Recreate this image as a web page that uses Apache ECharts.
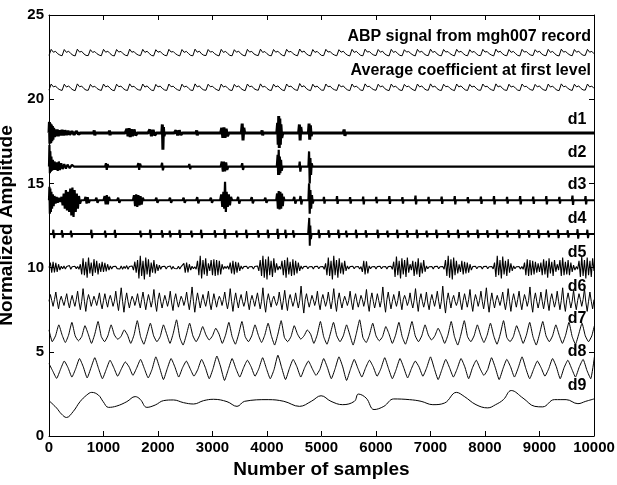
<!DOCTYPE html>
<html><head><meta charset="utf-8">
<script src="https://cdn.jsdelivr.net/npm/echarts@6/dist/echarts.min.js"></script>
<style>html,body{margin:0;padding:0;background:#fff}#c{width:617px;height:485px}</style>
</head><body><div id="c"></div>
<script>
// ---- tick labels / axes ----
const xTicks = [0,1000,2000,3000,4000,5000,6000,7000,8000,9000,10000];
const yTicks = [0,5,10,15,20,25];
const xTitle = 'Number of samples';
const yTitle = 'Normalized Amplitude';
// ---- trace labels ----
const labelNames = ['ABP signal from mgh007 record','Average coefficient at first level','d1','d2','d3','d4','d5','d6','d7','d8','d9'];
const labelX = [9945,9945,9860,9860,9860,9860,9860,9860,9860,9860,9860];
const labelY = [23.7,21.7,18.8,16.8,14.9,12.9,10.9,8.9,7.0,5.0,3.0];

// ---- ABP signal (sample step 40) ----
const abpStep = 40;
const abp = [
22.60,22.96,22.79,22.84,22.70,22.62, 22.58,22.95,22.78,22.85,22.71,22.61,
22.57,22.97,22.80,22.84,22.69,22.60, 22.59,22.94,22.78,22.83,22.70,22.62,
22.58,22.96,22.79,22.85,22.71,22.60, 22.57,22.95,22.80,22.84,22.70,22.61,
22.58,22.97,22.79,22.83,22.69,22.62, 22.59,22.96,22.78,22.85,22.71,22.60,
22.57,22.94,22.79,22.84,22.70,22.61, 22.58,22.96,22.80,22.83,22.70,22.62,
22.57,22.95,22.78,22.84,22.71,22.60, 22.58,22.97,22.79,22.85,22.69,22.61,
22.59,22.95,22.80,22.83,22.70,22.62, 22.57,22.96,22.78,22.84,22.71,22.60,
22.58,22.94,22.79,22.85,22.70,22.61, 22.57,22.96,22.80,22.84,22.69,22.62,
22.59,22.97,22.78,22.83,22.70,22.60, 22.58,22.95,22.79,22.85,22.71,22.61,
22.57,22.96,22.80,22.84,22.70,22.62, 22.58,22.98,22.79,22.86,22.70,22.61,
22.57,22.95,22.78,22.84,22.71,22.60, 22.59,22.96,22.80,22.83,22.69,22.62,
22.58,22.94,22.79,22.85,22.70,22.61, 22.57,22.96,22.78,22.84,22.71,22.60,
22.58,22.97,22.80,22.83,22.70,22.62, 22.59,22.95,22.79,22.85,22.69,22.61,
22.57,22.96,22.78,22.84,22.70,22.60, 22.58,22.94,22.80,22.83,22.71,22.62,
22.57,22.96,22.79,22.85,22.70,22.61, 22.59,22.97,22.78,22.84,22.69,22.60,
22.58,22.95,22.80,22.83,22.70,22.62, 22.57,22.96,22.79,22.85,22.71,22.61,
22.58,22.94,22.78,22.84,22.70,22.60, 22.59,22.96,22.80,22.83,22.69,22.62,
22.57,22.97,22.79,22.85,22.70,22.61, 22.58,22.95,22.78,22.84,22.71,22.60,
22.57,22.96,22.80,22.83,22.70,22.62, 22.59,22.94,22.79,22.85,22.69,22.61,
22.58,22.96,22.78,22.84,22.70,22.60, 22.57,22.97,22.80,22.83,22.71,22.62,
22.58,22.95,22.79,22.85,22.70,22.61, 22.60,22.96,22.79,22.84,22.70
];

// ---- Average coefficient at first level (sample step 40) ----
const avgStep = 40;
const avg = [
20.54,20.90,20.73,20.78,20.64,20.56, 20.52,20.89,20.72,20.79,20.65,20.55,
20.51,20.91,20.74,20.78,20.63,20.54, 20.53,20.88,20.72,20.77,20.64,20.56,
20.52,20.90,20.73,20.79,20.65,20.54, 20.51,20.89,20.74,20.78,20.64,20.55,
20.52,20.91,20.73,20.77,20.63,20.56, 20.53,20.90,20.72,20.79,20.65,20.54,
20.51,20.88,20.73,20.78,20.64,20.55, 20.52,20.90,20.74,20.77,20.64,20.56,
20.51,20.89,20.72,20.78,20.65,20.54, 20.52,20.91,20.73,20.79,20.63,20.55,
20.53,20.89,20.74,20.77,20.64,20.56, 20.51,20.90,20.72,20.78,20.65,20.54,
20.52,20.88,20.73,20.79,20.64,20.55, 20.51,20.90,20.74,20.78,20.63,20.56,
20.53,20.91,20.72,20.77,20.64,20.54, 20.52,20.89,20.73,20.79,20.65,20.55,
20.51,20.90,20.74,20.78,20.64,20.56, 20.52,20.93,20.73,20.80,20.64,20.55,
20.51,20.89,20.72,20.78,20.65,20.54, 20.53,20.90,20.74,20.77,20.63,20.56,
20.52,20.88,20.73,20.79,20.64,20.55, 20.51,20.90,20.72,20.78,20.65,20.54,
20.52,20.91,20.74,20.77,20.64,20.56, 20.53,20.89,20.73,20.79,20.63,20.55,
20.51,20.90,20.72,20.78,20.64,20.54, 20.52,20.88,20.74,20.77,20.65,20.56,
20.51,20.90,20.73,20.79,20.64,20.55, 20.53,20.91,20.72,20.78,20.63,20.54,
20.52,20.89,20.74,20.77,20.64,20.56, 20.51,20.90,20.73,20.79,20.65,20.55,
20.52,20.88,20.72,20.78,20.64,20.54, 20.53,20.90,20.74,20.77,20.63,20.56,
20.51,20.91,20.73,20.79,20.64,20.55, 20.52,20.89,20.72,20.78,20.65,20.54,
20.51,20.90,20.74,20.77,20.64,20.56, 20.53,20.88,20.73,20.79,20.63,20.55,
20.52,20.90,20.72,20.78,20.64,20.54, 20.51,20.91,20.74,20.77,20.65,20.56,
20.52,20.89,20.73,20.79,20.64,20.55, 20.54,20.90,20.73,20.78,20.64
];

// ---- detail d1 [sample, value] ----
const d1 = [
[0,18],[8,18.65],[16,17.35],[24,18.55],[32,17.4],[42,18.5],[52,17.5],[62,18.4],[72,17.6],[85,18.3],[100,17.75],[115,18.2],[130,17.8],[150,18.2],[170,17.8],[190,18.15],[215,17.85],[240,18.18],[265,17.85],[290,18.15],[320,17.88],[350,18.12],[380,17.9],[420,18.1],[460,17.9],[500,18.1],[540,17.92],[580,18],
[820,18],[830,18.15],[840,17.85],[850,18],
[1100,18],[1110,18.14],[1120,17.86],[1130,18],
[1400,18],[1430,18.25],[1450,17.8],[1470,18.28],[1490,17.75],[1510,18.22],[1530,17.8],[1560,18.2],[1590,17.85],[1620,18],
[1820,18],[1850,18.2],[1880,17.8],[1910,18.18],[1940,17.85],[1970,18],
[2070,18],[2080,18.5],[2090,17.0],[2100,18.35],[2110,17.8],[2125,18],
[2300,18],[2330,18.15],[2360,17.85],[2390,18.15],[2420,17.88],[2450,18],
[2700,18],[2710,18.15],[2720,17.85],[2730,18],
[3150,18],[3170,18.3],[3190,17.7],[3210,18.32],[3230,17.7],[3250,18.25],[3275,17.8],[3300,18],
[3530,18],[3545,18.55],[3560,17.55],[3575,18.3],[3590,18],
[3900,18],[3910,18.15],[3920,17.85],[3930,18],
[4180,18],[4195,18.6],[4205,17.3],[4215,19.0],[4225,17.1],[4235,18.85],[4245,17.3],[4255,18.5],[4270,17.7],[4290,18],
[4580,18],[4595,18.5],[4608,17.55],[4620,18.35],[4635,18],
[4760,18],[4772,18.55],[4784,17.6],[4796,18.45],[4810,17.8],[4825,18],
[5400,18],[5415,18.2],[5430,17.82],[5445,18],
[10000,18]
];

// ---- detail d2 [sample, value] ----
const d2 = [
[0,16],[8,17.3],[16,15.6],[24,16.9],[34,15.7],[44,16.6],[56,15.75],[70,16.4],[85,15.8],[100,16.3],[120,15.8],[140,16.25],[160,15.75],[180,16.3],[200,15.8],[225,16.2],[250,15.85],[280,16.15],[310,15.88],[340,16.12],[380,15.9],[420,16.1],[460,16],
[1030,16],[1045,16.2],[1060,15.8],[1075,16.15],[1090,16],
[1620,16],[1640,16.2],[1655,15.8],[1670,16.18],[1690,16],
[2060,16],[2075,16.22],[2090,15.78],[2105,16],
[2560,16],[2575,16.15],[2590,15.85],[2605,16],
[3150,16],[3170,16.3],[3190,15.7],[3210,16.3],[3230,15.72],[3250,16.25],[3270,15.8],[3290,16],
[3530,16],[3545,16.2],[3560,15.8],[3575,16],
[4180,16],[4195,16.7],[4205,15.5],[4215,17.0],[4225,15.5],[4235,16.6],[4245,15.6],[4258,16.4],[4270,15.75],[4285,16],
[4590,16],[4600,16.3],[4612,15.7],[4625,16],
[4760,16],[4772,16.9],[4784,15.0],[4796,16.5],[4808,15.5],[4820,16.2],[4835,16],
[10000,16]
];

// ---- detail d3 [sample, value] ----
const d3 = [
[0,14],[8,14.8],[16,13.2],[24,14.7],[34,13.3],[44,14.5],[56,13.5],[70,14.35],[85,13.65],[100,14.25],[120,13.8],[140,14.2],[160,13.85],[180,14.15],[200,13.9],[230,14.2],[250,13.7],[270,14.4],[290,13.5],[310,14.6],[330,13.4],[350,14.5],[370,13.3],[390,14.7],[410,13.1],[430,14.75],[450,13.0],[470,14.6],[490,13.3],[510,14.4],[530,13.5],[550,14.25],[570,13.8],[590,14],
[650,14],[670,14.2],[690,13.8],[710,14.18],[730,13.85],[750,14],
[850,14],[870,14.15],[890,13.85],[910,14],
[1000,14],[1020,14.25],[1040,13.75],[1060,14.3],[1080,13.75],[1100,14.2],[1120,14],
[1250,14],[1270,14.15],[1290,13.85],[1310,14],
[1540,14],[1560,14.3],[1580,13.65],[1600,14.35],[1620,13.6],[1640,14.3],[1660,13.7],[1680,14.25],[1700,13.75],[1720,14.15],[1740,14],
[1950,14],[1970,14.15],[1990,13.85],[2010,14],
[2200,14],[2220,14.15],[2240,13.85],[2260,14],
[2450,14],[2470,14.15],[2490,13.85],[2510,14],
[2700,14],[2720,14.18],[2740,13.82],[2760,14],
[2950,14],[2970,14.15],[2990,13.85],[3010,14],
[3140,14],[3160,14.35],[3180,13.6],[3200,14.5],[3215,13.5],[3230,15.1],[3245,13.3],[3260,14.5],[3280,13.6],[3300,14.35],[3320,13.7],[3340,14.2],[3360,14],
[3450,14],[3470,14.2],[3490,13.8],[3510,14],
[3700,14],[3720,14.18],[3740,13.82],[3760,14],
[3950,14],[3970,14.15],[3990,13.85],[4010,14],
[4170,14],[4185,14.4],[4200,13.5],[4215,14.55],[4230,13.45],[4245,14.5],[4260,13.5],[4275,14.4],[4290,13.65],[4305,14.2],[4320,14],
[4480,14],[4500,14.2],[4520,13.8],[4540,14],
[4600,14],[4615,14.25],[4630,13.75],[4645,14],
[4760,14],[4772,15.0],[4784,13.2],[4796,14.6],[4810,13.5],[4825,14.3],[4840,13.8],[4855,14],
[5035,14],[5045,14.2],[5055,13.8],[5065,14],
[5275,14],[5285,14.25],[5295,13.78],[5305,14],
[5515,14],[5525,14.18],[5535,13.8],[5545,14],
[5755,14],[5765,14.22],[5775,13.75],[5785,14],
[5995,14],[6005,14.2],[6015,13.82],[6025,14],
[6235,14],[6245,14.25],[6255,13.78],[6265,14],
[6475,14],[6485,14.18],[6495,13.8],[6505,14],
[6715,14],[6725,14.28],[6735,13.75],[6745,14],
[6955,14],[6965,14.2],[6975,13.8],[6985,14],
[7195,14],[7205,14.22],[7215,13.78],[7225,14],
[7435,14],[7445,14.25],[7455,13.75],[7465,14],
[7675,14],[7685,14.18],[7695,13.82],[7705,14],
[7915,14],[7925,14.22],[7935,13.78],[7945,14],
[8155,14],[8165,14.25],[8175,13.75],[8185,14],
[8395,14],[8405,14.2],[8415,13.8],[8425,14],
[8635,14],[8645,14.25],[8655,13.75],[8665,14],
[8875,14],[8885,14.22],[8895,13.78],[8905,14],
[9115,14],[9125,14.25],[9135,13.75],[9145,14],
[9355,14],[9365,14.2],[9375,13.8],[9385,14],
[9595,14],[9605,14.28],[9615,13.72],[9625,14],
[9835,14],[9845,14.25],[9855,13.75],[9865,14],
[10000,14]
];

// ---- detail d4 [sample, value] ----
const d4 = [
[0,12],[70,12],[80,12.25],[92,11.75],[104,12],
[228,12],[238,12.22],[250,11.78],[262,12],
[393,12],[403,12.2],[415,11.8],[427,12],
[767,12],[777,12.25],[789,11.75],[801,12],
[1019,12],[1029,12.2],[1041,11.78],[1053,12],
[1199,12],[1209,12.24],[1221,11.76],[1233,12],
[1666,12],[1676,12.2],[1688,11.8],[1700,12],
[1846,12],[1856,12.25],[1868,11.75],[1880,12],
[2062,12],[2072,12.22],[2084,11.78],[2096,12],
[2206,12],[2216,12.2],[2228,11.8],[2240,12],
[2386,12],[2396,12.24],[2408,11.76],[2420,12],
[2602,12],[2612,12.2],[2624,11.8],[2636,12],
[2782,12],[2792,12.25],[2804,11.75],[2816,12],
[3033,12],[3043,12.22],[3055,11.78],[3067,12],
[3213,12],[3223,12.28],[3235,11.72],[3247,12],
[3429,12],[3439,12.2],[3451,11.8],[3463,12],
[3609,12],[3619,12.25],[3631,11.75],[3643,12],
[3825,12],[3835,12.22],[3847,11.78],[3859,12],
[4005,12],[4015,12.25],[4027,11.75],[4039,12],
[4184,12],[4194,12.3],[4206,11.7],[4218,12],
[4328,12],[4338,12.25],[4350,11.75],[4362,12],
[4472,12],[4482,12.22],[4494,11.78],[4506,12],
[4755,12],[4765,12.5],[4775,12.95],[4785,11.3],[4795,12.5],[4805,11.7],[4820,12],
[4940,12],[4950,12.25],[4962,11.75],[4974,12],
[5120,12],[5130,12.22],[5142,11.78],[5154,12],
[5300,12],[5310,12.25],[5322,11.75],[5334,12],
[5443,12],[5453,12.2],[5465,11.8],[5477,12],
[5623,12],[5633,12.25],[5645,11.75],[5657,12],
[5803,12],[5813,12.22],[5825,11.78],[5837,12],
[6019,12],[6029,12.25],[6041,11.75],[6053,12],
[6199,12],[6209,12.2],[6221,11.8],[6233,12],
[6379,12],[6389,12.25],[6401,11.75],[6413,12],
[6559,12],[6569,12.22],[6581,11.78],[6593,12],
[6738,12],[6748,12.25],[6760,11.75],[6772,12],
[6918,12],[6928,12.2],[6940,11.8],[6952,12],
[7098,12],[7108,12.25],[7120,11.75],[7132,12],
[7314,12],[7324,12.22],[7336,11.78],[7348,12],
[7494,12],[7504,12.25],[7516,11.75],[7528,12],
[7674,12],[7684,12.2],[7696,11.8],[7708,12],
[7854,12],[7864,12.25],[7876,11.75],[7888,12],
[8033,12],[8043,12.22],[8055,11.78],[8067,12],
[8213,12],[8223,12.25],[8235,11.75],[8247,12],
[8393,12],[8403,12.2],[8415,11.8],[8427,12],
[8609,12],[8619,12.25],[8631,11.75],[8643,12],
[8789,12],[8799,12.22],[8811,11.78],[8823,12],
[8969,12],[8979,12.25],[8991,11.75],[9003,12],
[9148,12],[9158,12.2],[9170,11.8],[9182,12],
[9328,12],[9338,12.25],[9350,11.75],[9362,12],
[9508,12],[9518,12.22],[9530,11.78],[9542,12],
[9688,12],[9698,12.28],[9710,11.72],[9722,12],
[9868,12],[9878,12.25],[9890,11.75],[9902,12],
[10000,12]
];

// ---- detail d5 (sample step 25) ----
const d5Step = 25;
const d5 = [
10,10.3,9.7,10.35,9.72,10.28,9.75,10.2,9.85,10.08,9.93,10.1,9.92,10.06,9.95,10.12,9.9,10.05,9.96,10.08,
9.94,10.07,9.9,10.2,9.6,10.55,9.55,10.35,9.4,10.6,9.65,10.3,9.5,10.5,9.7,10.4,9.6,10.25,9.75,10.35,
9.75,10.28,9.78,10.2,9.85,10.1,9.92,10.06,9.95,10.08,9.94,10.05,9.92,10.1,9.9,10.07,9.95,10.12,9.9,10.06,
9.95,10.1,9.85,10.35,9.7,10.45,9.35,10.7,9.5,10.4,9.3,10.6,9.6,10.5,9.45,10.3,9.7,10.45,9.65,10.2,
9.8,10.15,9.9,10.06,9.95,10.08,9.92,10.05,9.94,10.1,9.9,10.07,9.95,10.05,9.93,10.08,9.92,10.06,9.95,10.25,
9.7,10.3,9.72,10.2,9.85,10.08,9.93,10.05,9.9,10.4,9.55,10.7,9.35,10.45,9.6,10.55,9.5,10.25,9.8,10.45,
9.55,10.5,9.5,10.45,9.55,10.4,9.6,10.2,9.9,10.07,9.95,10.1,9.9,10.3,9.65,10.4,9.6,10.35,9.7,10.3,
9.8,10.1,9.92,10.06,9.95,10.08,9.93,10.05,9.94,10.07,9.92,10.06,9.95,10.1,9.8,10.45,9.5,10.7,9.4,10.5,
9.3,10.65,9.55,10.4,9.45,10.55,9.7,10.25,9.85,10.08,9.9,10.4,9.55,10.45,9.4,10.6,9.6,10.35,9.5,10.5,
9.55,10.4,9.65,10.3,9.8,10.1,9.92,10.06,9.95,10.08,9.93,10.05,9.94,10.07,9.92,10.06,9.95,10.08,9.93,10.05,
9.94,10.07,9.9,10.25,9.55,10.6,9.5,10.4,9.3,10.7,9.55,10.45,9.4,10.55,9.65,10.3,9.6,10.4,9.8,10.1,
9.92,10.06,9.95,10.08,9.93,10.05,9.94,10.07,9.92,10.06,9.75,10.4,9.6,10.38,9.65,10.1,9.93,10.05,9.94,10.07,
9.92,10.06,9.95,10.08,9.93,10.05,9.94,10.07,9.92,10.06,9.95,10.08,9.9,10.35,9.45,10.65,9.55,10.4,9.35,10.55,
9.6,10.45,9.45,10.6,9.7,10.2,9.85,10.4,9.5,10.35,9.6,10.55,9.45,10.3,9.65,10.45,9.75,10.1,9.93,10.05,
9.94,10.07,9.92,10.06,9.95,10.08,9.93,10.05,9.94,10.07,9.9,10.45,9.5,10.7,9.4,10.5,9.3,10.6,9.55,10.4,
9.65,10.2,9.75,10.4,9.6,10.35,9.65,10.3,9.7,10.2,9.85,10.06,9.95,10.08,9.93,10.05,9.94,10.07,9.92,10.06,
9.95,10.08,9.93,10.05,9.94,10.07,9.92,10.3,9.45,10.7,9.55,10.45,9.35,10.65,9.6,10.4,9.5,10.5,9.7,10.25,
9.8,10.1,9.93,10.05,9.94,10.07,9.92,10.06,9.9,10.3,9.55,10.5,9.5,10.45,9.55,10.4,9.6,10.35,9.7,10.25,
9.75,10.3,9.55,10.5,9.6,10.4,9.4,10.55,9.65,10.35,9.5,10.45,9.75,10.2,9.85,10.45,9.5,10.6,9.55,10.35,
9.6,10.45,9.55,10.3,9.75,10.15,9.85,10.06,9.9,10.4,9.45,10.65,9.5,10.45,9.35,10.6,9.55,10.4,9.45,10.55,
9.8
];

// ---- detail d6 (sample step 25) ----
const d6Step = 25;
const d6 = [
8.0,8.4,8.05,7.7,8.1,8.55,8.0,7.55,8.05,8.3,8.0,7.75,8.1,8.45,7.95,7.6,8.05,8.35,8.0,7.7,
8.1,8.6,7.95,7.5,8.0,8.75,8.0,7.4,8.05,8.4,8.1,7.7,8.0,8.3,8.05,7.75,8.1,8.5,7.9,7.55,
8.05,8.45,8.0,7.65,8.1,8.35,8.05,7.7,8.0,8.6,7.95,7.45,8.1,8.8,8.0,7.35,8.05,8.5,8.0,7.6,
8.0,8.3,8.1,7.75,8.05,8.45,7.95,7.6,8.1,8.55,8.0,7.5,8.0,8.4,8.05,7.65,8.05,8.7,7.9,7.4,
8.1,8.5,8.0,7.6,8.0,8.35,8.05,7.7,8.05,8.6,7.9,7.45,8.1,8.45,8.0,7.65,8.0,8.3,8.1,7.75,
8.05,8.55,7.95,7.5,8.1,8.85,8.0,7.35,8.0,8.5,8.05,7.6,8.05,8.4,8.0,7.7,8.1,8.6,7.9,7.5,
8.0,8.45,8.05,7.65,8.05,8.3,8.1,7.75,8.1,8.55,7.95,7.55,8.0,8.75,8.0,7.4,8.05,8.5,8.0,7.6,
8.1,8.4,8.0,7.7,8.0,8.6,7.95,7.5,8.05,8.35,8.05,7.7,8.1,8.5,8.0,7.55,8.0,8.8,7.9,7.35,
8.05,8.45,8.05,7.65,8.1,8.3,8.0,7.75,8.0,8.55,8.0,7.5,8.05,8.65,7.95,7.45,8.1,8.4,8.05,7.7,
8.0,8.5,8.0,7.6,8.05,8.9,7.95,7.3,8.1,8.45,8.0,7.65,8.0,8.35,8.1,7.75,8.05,8.6,7.9,7.5,
8.1,8.4,8.05,7.7,8.0,8.55,8.0,7.55,8.05,8.75,7.95,7.4,8.1,8.5,8.0,7.6,8.0,8.3,8.05,7.75,
8.05,8.6,7.95,7.5,8.1,8.45,8.0,7.65,8.0,8.35,8.1,7.7,8.05,8.7,7.9,7.4,8.1,8.5,8.0,7.6,
8.0,8.45,8.05,7.65,8.05,8.85,7.95,7.35,8.1,8.55,8.0,7.55,8.0,8.4,8.05,7.7,8.05,8.6,8.0,7.5,
8.1,8.35,8.1,7.75,8.0,8.5,7.95,7.6,8.05,8.75,8.0,7.4,8.1,8.45,8.0,7.65,8.0,8.55,7.9,7.5,
8.05,8.4,8.05,7.7,8.1,8.6,8.0,7.55,8.0,8.9,7.95,7.3,8.05,8.5,8.05,7.6,8.1,8.35,8.0,7.75,
8.0,8.55,7.95,7.5,8.05,8.45,8.05,7.65,8.1,8.7,7.9,7.4,8.0,8.4,8.1,7.7,8.05,8.6,8.0,7.55,
8.1,8.8,7.95,7.35,8.0,8.5,8.0,7.6,8.05,8.35,8.05,7.75,8.1,8.55,7.95,7.5,8.0,8.75,8.0,7.4,
8.05,8.45,8.05,7.65,8.1,8.6,7.95,7.5,8.0,8.4,8.1,7.7,8.05,8.85,7.9,7.35,8.1,8.5,8.0,7.6,
8.0,8.55,8.0,7.55,8.05,8.7,7.95,7.45,8.1,8.45,8.05,7.65,8.0,8.6,8.0,7.5,8.05,8.8,7.9,7.4,
8.1,8.5,8.05,7.6,8.0,8.65,7.95,7.5,8.05,8.45,8.1,7.7,8.1,8.75,7.95,7.4,8.0,8.55,8.0,7.55,
8.1
];

// ---- detail d7 (sample step 60) ----
const d7Step = 60;
const d7 = [
6.3,
5.6,5.95,6.6,6.0, 5.55,6.0,6.75,5.95, 5.65,5.9,6.55,6.05, 5.5,6.05,6.8,5.9, 5.6,5.95,6.6,6.0,
5.75,5.9,6.3,6.0, 5.5,6.0,6.85,5.9, 5.45,6.05,6.7,5.95, 5.6,5.9,6.6,6.05, 5.5,6.1,6.9,5.85,
5.4,6.0,6.7,5.95, 5.6,5.95,6.5,6.0, 5.7,5.95,6.4,6.05, 5.5,6.0,6.75,5.9, 5.45,6.05,6.8,5.9,
5.6,5.95,6.6,6.0, 5.55,6.0,6.7,5.95, 5.4,6.05,6.85,5.85, 5.6,5.9,6.55,6.05, 5.75,5.95,6.3,6.05,
5.5,6.0,6.8,5.9, 5.45,6.05,6.75,5.95, 5.6,5.95,6.6,6.0, 5.4,6.1,6.9,5.85, 5.55,6.0,6.7,5.95,
5.65,5.9,6.5,6.05, 5.5,6.0,6.75,5.9, 5.45,6.05,6.8,5.95, 5.6,5.95,6.6,6.0, 5.7,5.95,6.4,6.0,
5.5,6.0,6.8,5.9, 5.4,6.05,6.85,5.9, 5.6,5.95,6.6,6.0, 5.55,6.0,6.7,5.95, 5.45,6.05,6.85,5.85,
5.6,5.9,6.55,6.05, 5.5,6.0,6.75,5.9, 5.4,6.05,6.8,5.95, 5.6,5.95,6.6,6.0, 5.5,6.0,6.75,5.9,
5.45,6.05,6.7,5.95, 5.6,5.95,6.65,6.0
];

// ---- detail d8 (sample step 70) ----
const d8Step = 70;
const d8 = [
4.3,3.85,3.42,3.95,4.45,4.05,3.5,4.0,4.6,4.1,3.45,4.05,4.65,4.0,3.4,3.95,4.5,4.05,3.55,4.0,
4.4,4.1,3.6,4.05,4.55,4.0,3.45,3.95,4.7,4.05,3.35,4.0,4.6,4.1,3.5,4.05,4.45,4.0,3.55,3.95,
4.55,4.05,3.4,4.0,4.75,4.1,3.3,3.95,4.6,4.0,3.5,4.05,4.5,4.1,3.55,4.0,4.65,4.0,3.4,3.95,
4.8,4.05,3.35,4.0,4.55,4.1,3.5,4.05,4.45,4.0,3.6,3.95,4.6,4.05,3.4,4.0,4.7,4.1,3.3,3.95,
4.55,4.0,3.5,4.05,4.5,4.1,3.55,4.0,4.65,4.0,3.4,3.95,4.6,4.05,3.45,4.0,4.45,4.1,3.55,4.05,
4.7,4.0,3.35,3.95,4.55,4.05,3.5,4.0,4.6,4.1,3.4,4.05,4.5,4.0,3.6,3.95,4.65,4.05,3.35,4.0,
4.55,4.1,3.5,4.05,4.7,4.0,3.4,3.95,4.45,4.05,3.55,4.0,4.6,4.1,3.4,4.05,4.5,4.0,3.5,4.1,
4.55,3.9,3.4,4.75
];

// ---- detail d9 [sample, value] ----
const d9 = [
[0,2.1],[20,2.04],[140,1.66],[230,1.3],[320,1.1],[443,1.45],[570,2.04],[692,2.43],[784,2.59],[907,2.43],[994,2.04],[1091,1.7],[1244,1.78],[1428,2.04],[1581,2.34],[1673,2.18],[1796,1.7],[1949,1.84],[2101,2.1],[2285,2.14],[2469,1.98],[2653,1.9],[2837,2.1],[3020,2.18],[3266,2.04],[3450,1.76],[3590,2.06],[4022,2.16],[4309,2.06],[4597,1.76],[4813,2.06],[4993,2.39],[5173,2.06],[5388,1.86],[5604,2.06],[5676,2.49],[5820,2.25],[5964,1.57],[6144,1.76],[6324,2.2],[6612,2.16],[6827,2.06],[7043,1.86],[7259,1.96],[7475,2.59],[7619,2.35],[7835,1.86],[8050,1.67],[8194,1.86],[8338,2.16],[8482,2.7],[8698,2.25],[8914,1.76],[9058,1.73],[9273,2.16],[9489,2.16],[9705,1.92],[9849,2.06],[10000,2.2]
];

const seq = (vals, step) => vals.map((v, i) => [i * step, v]);

const FONT = '"Liberation Sans", Arial, Helvetica, sans-serif';
function line(name, data, width, smooth) {
  return { name, type: 'line', data, symbol: 'none', showSymbol: false, silent: true,
    smooth: smooth || false,
    clip: true, lineStyle: { color: '#000', width }, animation: false, z: 2 };
}

const chart = echarts.init(document.getElementById('c'), null, { renderer: 'canvas' });
const axisCommon = {
  axisLine: { show: true, onZero: false, lineStyle: { color: '#000', width: 1 } },
  axisTick: { show: true, inside: true, length: 5, lineStyle: { color: '#000', width: 1 } },
  splitLine: { show: false }
};
chart.setOption({
  backgroundColor: '#fff',
  animation: false,
  grid: { left: 49, right: 23, top: 15, bottom: 49, containLabel: false, outerBoundsMode: 'none' },
  xAxis: [
    Object.assign({ type: 'value', min: xTicks[0], max: xTicks[xTicks.length - 1], interval: xTicks[1] - xTicks[0], position: 'bottom',
      axisLabel: { color: '#000', fontWeight: 'bold', fontSize: 15, fontFamily: FONT, margin: 4, formatter: v => String(v) },
      name: xTitle, nameLocation: 'middle', nameGap: 21,
      nameTextStyle: { color: '#000', fontWeight: 'bold', fontSize: 19, fontFamily: FONT } }, axisCommon),
    Object.assign({ type: 'value', min: xTicks[0], max: xTicks[xTicks.length - 1], interval: xTicks[1] - xTicks[0], position: 'top',
      axisLabel: { show: false } }, axisCommon)
  ],
  yAxis: [
    Object.assign({ type: 'value', min: yTicks[0], max: yTicks[yTicks.length - 1], interval: yTicks[1] - yTicks[0], position: 'left',
      axisLabel: { color: '#000', fontWeight: 'bold', fontSize: 15, fontFamily: FONT, margin: 5, formatter: v => String(v) },
      name: yTitle, nameLocation: 'middle', nameGap: 24, nameRotate: 90,
      nameTextStyle: { color: '#000', fontWeight: 'bold', fontSize: 19, fontFamily: FONT } }, axisCommon),
    Object.assign({ type: 'value', min: yTicks[0], max: yTicks[yTicks.length - 1], interval: yTicks[1] - yTicks[0], position: 'right',
      axisLabel: { show: false } }, axisCommon)
  ],
  series: [
    line('ABP', seq(abp, abpStep), 1),
    line('Average', seq(avg, avgStep), 1),
    line('d1', d1, 3),
    line('d2', d2, 2.2),
    line('d3', d3, 2.2),
    line('d4', d4, 2.0),
    line('d5', seq(d5, d5Step), 1.1),
    line('d6', seq(d6, d6Step), 1),
    line('d7', seq(d7, d7Step), 1, 0.15),
    line('d8', seq(d8, d8Step), 1, 0.15),
    line('d9', d9, 1, 0.4),
    { type: 'scatter', silent: true, symbolSize: 0, itemStyle: { color: '#000', opacity: 1 }, z: 5, animation: false,
      data: labelNames.map((n, i) => ({ name: n, value: [labelX[i], labelY[i]] })),
      label: { show: true, position: 'left', distance: 0, formatter: p => p.name,
        color: '#000', opacity: 1, fontWeight: 'bold', fontSize: 16, fontFamily: FONT } }
  ]
});
</script></body></html>
